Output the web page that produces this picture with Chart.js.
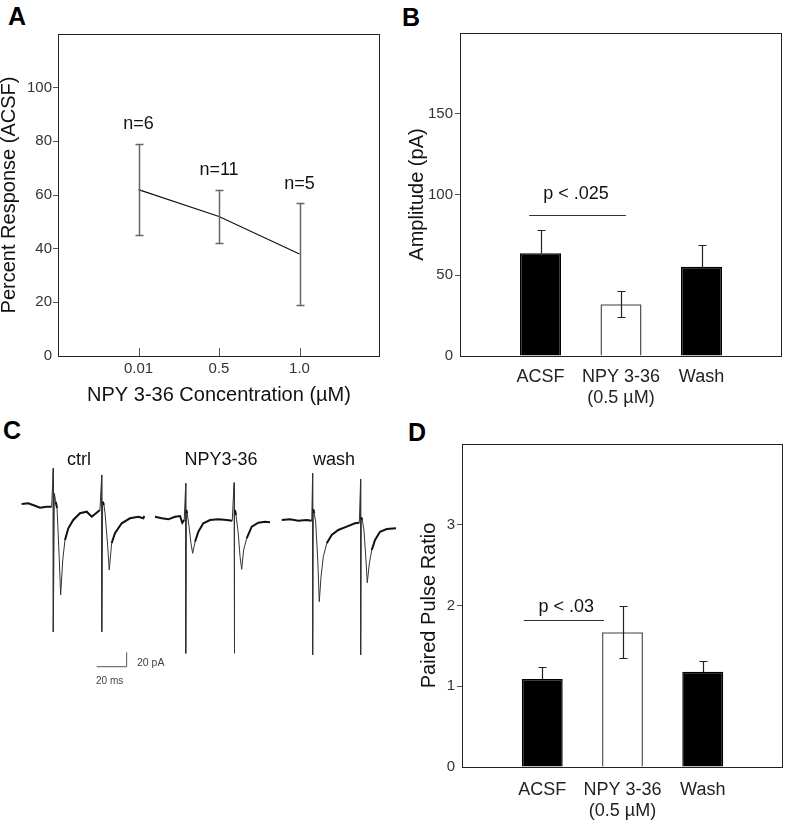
<!DOCTYPE html>
<html>
<head>
<meta charset="utf-8">
<script src="https://cdn.jsdelivr.net/npm/chart.js@4.4.1/dist/chart.umd.min.js"></script>
<style>
html,body{margin:0;padding:0;background:#fff;}
body{width:785px;height:821px;position:relative;overflow:hidden;font-family:Arial,"Liberation Sans",sans-serif;}
canvas{position:absolute;display:block;}
.lbl{position:absolute;font-weight:bold;font-size:25px;line-height:25px;color:#000;}
.t{position:absolute;white-space:nowrap;line-height:1;transform:translateY(-50%);}
</style>
</head>
<body>
<div class="lbl" style="left:8px;top:4px">A</div>
<div class="lbl" style="left:402px;top:5px">B</div>
<div class="lbl" style="left:3px;top:418px">C</div>
<div class="lbl" style="left:408px;top:420px">D</div>

<canvas id="cA" width="392" height="410" style="left:0;top:0"></canvas>
<canvas id="cB" width="400" height="415" style="left:392px;top:0"></canvas>
<canvas id="cD" width="403" height="416" style="left:392px;top:405px"></canvas>
<canvas id="cC" width="400" height="260" style="left:0;top:440px"></canvas>

<div class="t" style="left:79px;top:459px;font-size:18px;color:#111;transform:translate(-50%,-50%)">ctrl</div>
<div class="t" style="left:221px;top:459px;font-size:18px;color:#111;transform:translate(-50%,-50%)">NPY3-36</div>
<div class="t" style="left:334px;top:459px;font-size:18px;color:#111;transform:translate(-50%,-50%)">wash</div>
<div class="t" style="left:137px;top:662px;font-size:10.5px;color:#444">20 pA</div>
<div class="t" style="left:96px;top:681px;font-size:10px;color:#444">20 ms</div>

<script>
// ---------------- DATA ----------------
// Panel A
const concLabels = ['0.01', '0.5', '1.0'];
const pctResponse = [62, 52, 38];
const pctErrHigh = [79, 62, 57];
const pctErrLow = [45, 42, 19];
const nLabels = ['n=6', 'n=11', 'n=5'];
const pctTicksMax = 120;

// Panel B
const conditions = ['ACSF', ['NPY 3-36', '(0.5 \u00b5M)'], 'Wash'];
const amplitude = [63.6, 32, 55.3];
const amplitudeSem = [14.4, 8, 13.3];
const ampSig = { text: 'p < .025', from: 0.86, to: 2.06, level: 87, textLevel: 100, textAt: 1.44 };

// Panel D
const ppr = [1.09, 1.67, 1.18];
const pprSem = [0.15, 0.32, 0.13];
const pprSig = { text: 'p < .03', from: 0.77, to: 1.77, level: 1.825, textLevel: 1.98, textAt: 1.3 };

// Panel C traces (time in ms, current in pA, figure-relative)
const ctrlT = [1.1, 5.5, 10, 13.3, 17.8, 21.1, 22.2, 22.2, 22.9, 23.8, 24.7, 26.2, 27.1, 28.5, 30, 32.2, 35.5, 40, 44.5, 47.8, 51.1, 53.3, 54.5, 54.5, 55.1, 56, 56.7, 58.5, 59.5, 61.1, 63.3, 67.8, 73.3, 78.9, 82.2, 82.9];
const ctrlI = [1.4, 2.4, -1, -3.8, -2.4, -2.4, 51, -176, 16.3, 4.6, -4.2, -76.4, -125, -76.4, -48.6, -32.4, -20.8, -11.5, -9.3, -16.3, -10.7, -6.9, 41.7, -176, 4.6, 0, -11.5, -57.9, -90.3, -53.2, -39.3, -25.4, -18.5, -16.3, -18.5, -15.3];
const npyT = [90, 94.5, 98.9, 103.3, 106.7, 108.2, 109.5, 110.5, 110.5, 110.9, 111.5, 112.7, 114, 115.1, 116.7, 118.9, 122.2, 126.7, 132.2, 137.8, 141.5, 142.7, 142.7, 143.3, 144, 145.5, 146.7, 147.8, 149.1, 151.1, 154.5, 158.9, 163.3, 166.7];
const npyI = [-16.3, -18.5, -19.9, -16.3, -15.3, -24.6, -20.8, 30.1, -206, -6.9, -11.5, -30.1, -53.2, -67.1, -51, -37.1, -25.4, -20.8, -19.9, -20.8, -21.8, 31, -206, -6.9, -13.9, -39.3, -71.8, -89.3, -62.5, -46.3, -30.1, -24.6, -23.2, -24];
const washT = [174.5, 180, 185.5, 191.1, 194.5, 195.1, 195.1, 195.5, 196.2, 197.1, 198.5, 199.5, 200.7, 202.2, 204.5, 207.8, 212.2, 217.8, 223.3, 226.2, 227.1, 227.1, 227.5, 228.2, 229.3, 230.5, 231.5, 232.9, 234.5, 236.7, 240, 244.5, 250.7];
const washI = [-20.8, -19.9, -21.8, -20.8, -21.8, 44, -208.3, -6, -11.5, -23.2, -76.4, -134.3, -99.6, -71.8, -53.2, -41.7, -34.7, -30.1, -25.4, -24.6, 36.1, -208.3, -17.1, -20.8, -34.7, -71.8, -107.9, -81, -62.5, -48.6, -37.1, -33.3, -32.4];
const scaleBarMs = 20;
const scaleBarPa = 20;

// ---------------- LAYOUT / STYLE ----------------
Chart.defaults.font.family = 'Arial, "Liberation Sans", sans-serif';
Chart.defaults.color = '#333';
const FONT_FAMILY = 'Arial, "Liberation Sans", sans-serif';

function framePlugin(color) {
  return {
    id: 'frame',
    afterDraw(chart) {
      const { ctx, chartArea: a } = chart;
      ctx.save();
      ctx.strokeStyle = color; ctx.lineWidth = 1;
      ctx.strokeRect(Math.round(a.left) + 0.5, Math.round(a.top) + 0.5, Math.round(a.right - a.left) - 1, Math.round(a.bottom - a.top));
      ctx.restore();
    }
  };
}
function errorBarPlugin(high, low, color, width, cap, showLower) {
  return {
    id: 'errorBars',
    afterDatasetsDraw(chart) {
      const { ctx } = chart; const xs = chart.scales.x, ys = chart.scales.y;
      ctx.save(); ctx.strokeStyle = color; ctx.lineWidth = width;
      high.forEach((hi, k) => {
        const x = Math.round(xs.getPixelForValue(k + 1)) + 0.5;
        const yh = Math.round(ys.getPixelForValue(hi)) + 0.5;
        const lower = !showLower || showLower[k];
        const yl = lower ? Math.round(ys.getPixelForValue(low[k])) + 0.5 : Math.round(ys.getPixelForValue((hi + low[k]) / 2)) + 0.5;
        ctx.beginPath();
        ctx.moveTo(x, yh); ctx.lineTo(x, yl);
        ctx.moveTo(x - cap, yh); ctx.lineTo(x + cap, yh);
        if (lower) { ctx.moveTo(x - cap, yl); ctx.lineTo(x + cap, yl); }
        ctx.stroke();
      });
      ctx.restore();
    }
  };
}
function inwardTicksPlugin(count, len, color) {
  return {
    id: 'inwardTicks',
    afterDraw(chart) {
      const { ctx, chartArea: a } = chart; const xs = chart.scales.x;
      ctx.save(); ctx.strokeStyle = color; ctx.lineWidth = 1;
      for (let k = 1; k <= count; k++) {
        const x = Math.round(xs.getPixelForValue(k)) + 0.5;
        ctx.beginPath(); ctx.moveTo(x, a.bottom); ctx.lineTo(x, a.bottom - len); ctx.stroke();
      }
      ctx.restore();
    }
  };
}
function nLabelPlugin(labels, tops, gap) {
  return {
    id: 'nLabels',
    afterDraw(chart) {
      const { ctx } = chart; const xs = chart.scales.x, ys = chart.scales.y;
      ctx.save(); ctx.fillStyle = '#111'; ctx.font = '18px ' + FONT_FAMILY;
      ctx.textAlign = 'center'; ctx.textBaseline = 'middle';
      labels.forEach((s, k) => ctx.fillText(s, xs.getPixelForValue(k + 1), ys.getPixelForValue(tops[k]) - gap));
      ctx.restore();
    }
  };
}
function sigPlugin(sig) {
  return {
    id: 'sig',
    afterDraw(chart) {
      const { ctx } = chart; const xs = chart.scales.x, ys = chart.scales.y;
      ctx.save(); ctx.strokeStyle = '#333'; ctx.lineWidth = 1;
      const y = Math.round(ys.getPixelForValue(sig.level)) + 0.5;
      ctx.beginPath(); ctx.moveTo(xs.getPixelForValue(sig.from), y); ctx.lineTo(xs.getPixelForValue(sig.to), y); ctx.stroke();
      ctx.fillStyle = '#111'; ctx.font = '18px ' + FONT_FAMILY; ctx.textAlign = 'center'; ctx.textBaseline = 'middle';
      ctx.fillText(sig.text, xs.getPixelForValue(sig.textAt), ys.getPixelForValue(sig.textLevel));
      ctx.restore();
    }
  };
}
function padded(arr) { return [''].concat(arr, ['']); }
function paddedData(arr) { return [null].concat(arr, [null]); }

// ---------------- PANEL A ----------------
new Chart(document.getElementById('cA'), {
  type: 'line',
  data: {
    labels: padded(concLabels),
    datasets: [{
      data: paddedData(pctResponse),
      borderColor: '#111', borderWidth: 1.2, pointRadius: 0, tension: 0, fill: false
    }]
  },
  options: {
    responsive: false, animation: false, devicePixelRatio: 1,
    layout: { padding: { left: 0, top: 34, right: 12, bottom: 0 } },
    plugins: { legend: { display: false }, tooltip: { enabled: false } },
    scales: {
      x: {
        type: 'category', offset: false,
        grid: { display: false, drawTicks: false },
        border: { display: false },
        ticks: { font: { size: 15 }, color: '#333', padding: 4, autoSkip: false, maxRotation: 0 },
        title: { display: true, text: 'NPY 3-36 Concentration (\u00b5M)', font: { size: 20 }, color: '#111', padding: { top: 0, bottom: 3 } },
        afterFit(s) { s.height = 54; }
      },
      y: {
        min: 0, max: pctTicksMax,
        grid: { drawOnChartArea: false, drawTicks: true, tickLength: 5, tickColor: c => (c.tick && (c.tick.value === 0)) ? 'rgba(0,0,0,0)' : '#555' },
        border: { display: false },
        ticks: { stepSize: 20, font: { size: 15 }, color: '#333', padding: 1, callback: v => v === pctTicksMax ? null : v },
        title: { display: true, text: 'Percent Response (ACSF)', font: { size: 20 }, color: '#111', padding: { top: -3, bottom: 0 } },
        afterFit(s) { s.width = 58; }
      }
    }
  },
  plugins: [framePlugin('#222'), inwardTicksPlugin(concLabels.length, 8, '#555'),
            errorBarPlugin(pctErrHigh, pctErrLow, '#666', 1.5, 4), nLabelPlugin(nLabels, pctErrHigh, 19.5)]
});

// ---------------- bar panel builder ----------------
function barPanel(id, values, sems, yMax, step, sig, yTitle, dims) {
  const hi = values.map((v, k) => v + sems[k]);
  const lo = values.map((v, k) => v - sems[k]);
  const fills = ['#000', '#000', '#fff', '#000', '#000'];
  const borders = ['#000', '#000', '#555', '#000', '#000'];
  const showLower = values.map((v, k) => fills[k + 1] !== '#000');
  return new Chart(document.getElementById(id), {
    type: 'bar',
    data: {
      labels: padded(conditions),
      datasets: [{
        data: paddedData(values),
        backgroundColor: fills, borderColor: borders, borderWidth: 1.5,
        categoryPercentage: 1, barPercentage: 0.51
      }]
    },
    options: {
      responsive: false, animation: false, devicePixelRatio: 1,
      layout: { padding: dims.padding },
      plugins: { legend: { display: false }, tooltip: { enabled: false } },
      scales: {
        x: {
          type: 'category', offset: false,
          grid: { display: false, drawTicks: false },
          border: { display: false },
          ticks: { font: { size: 18 }, color: '#222', padding: dims.xPad, autoSkip: false, maxRotation: 0 },
          afterFit(s) { s.height = dims.xh; }
        },
        y: {
          min: 0, max: yMax,
          grid: { drawOnChartArea: false, drawTicks: true, tickLength: 5, tickColor: c => (c.tick && c.tick.value === 0) ? 'rgba(0,0,0,0)' : '#555' },
          border: { display: false },
          ticks: { stepSize: step, font: { size: 15 }, color: '#333', padding: 2, callback: v => v === yMax ? null : v },
          title: { display: true, text: yTitle, font: { size: 20 }, color: '#111', padding: { top: dims.titlePad, bottom: 0 } },
          afterFit(s) { s.width = dims.yw; }
        }
      }
    },
    plugins: [framePlugin('#222'), errorBarPlugin(hi, lo, '#222', 1.2, 4, showLower), sigPlugin(sig)]
  });
}

barPanel('cB', amplitude, amplitudeSem, 200, 50, ampSig, 'Amplitude (pA)',
  { padding: { left: 0, top: 33, right: 0, bottom: 0 }, xh: 59, yw: 68, xPad: 10, titlePad: 13 });
barPanel('cD', ppr, pprSem, 4, 1, pprSig, 'Paired Pulse Ratio',
  { padding: { left: 0, top: 39, right: 0, bottom: 0 }, xh: 54, yw: 70, xPad: 12, titlePad: 25 });

// ---------------- PANEL C (traces) ----------------
function pts(T, I) { return T.map((t, k) => ({ x: t, y: I[k] })); }
function steep(c) { const dx = Math.abs(c.p1.x - c.p0.x), dy = Math.abs(c.p1.y - c.p0.y); return dy > 2.5 * dx + 4; }
const traceSeg = {
  borderWidth: c => steep(c) ? 1 : 2,
  borderColor: c => steep(c) ? '#333' : '#111'
};
const barT0 = 51.1, barI0 = -224.6;
new Chart(document.getElementById('cC'), {
  type: 'scatter',
  data: {
    datasets: [
      { data: pts(ctrlT, ctrlI), showLine: true, pointRadius: 0, borderColor: '#111', borderWidth: 2, segment: traceSeg },
      { data: pts(npyT, npyI), showLine: true, pointRadius: 0, borderColor: '#111', borderWidth: 2, segment: traceSeg },
      { data: pts(washT, washI), showLine: true, pointRadius: 0, borderColor: '#111', borderWidth: 2, segment: traceSeg },
      { data: [{ x: barT0, y: barI0 }, { x: barT0 + scaleBarMs, y: barI0 }, { x: barT0 + scaleBarMs, y: barI0 + scaleBarPa }],
        showLine: true, pointRadius: 0, borderColor: '#555', borderWidth: 1 }
    ]
  },
  options: {
    responsive: false, animation: false, devicePixelRatio: 1,
    layout: { padding: 0 },
    plugins: { legend: { display: false }, tooltip: { enabled: false } },
    scales: {
      x: { type: 'linear', display: false, min: -13.333, max: 253.333 },
      y: { type: 'linear', display: false, min: -270.83, max: 90.28 }
    }
  }
});
</script>
</body>
</html>
